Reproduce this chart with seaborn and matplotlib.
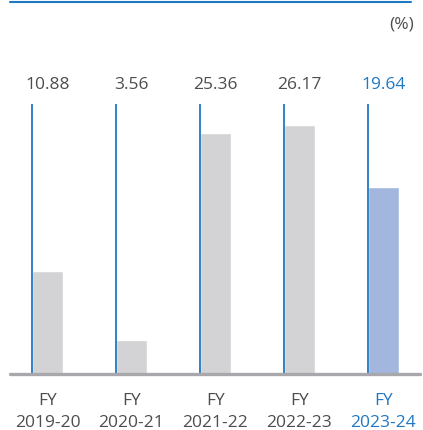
"""Return ratio by fiscal year, bar chart with marker lines."""

import matplotlib
matplotlib.use("Agg")
import matplotlib.pyplot as plt
import pandas as pd
import seaborn as sns


YEARS = ["FY\n2019-20", "FY\n2020-21", "FY\n2021-22", "FY\n2022-23", "FY\n2023-24"]
VALUES = [10.88, 3.56, 25.36, 26.17, 19.64]
VALUE_LABELS = ["10.88", "3.56", "25.36", "26.17", "19.64"]
UNIT_LABEL = "(%)"

GREY_BAR = "#d3d3d5"
HIGHLIGHT_BAR = "#a3b6dd"
BLUE = "#1f78c4"
TEXT_GREY = "#4d4d4d"
BASE_GREY = "#a8a8ac"

W, H = 423, 430
BAR_WIDTH = 0.36
PX_PER_UNIT = 9.5


def main() -> None:
    sns.set_theme(style="white")
    plt.rcParams["font.family"] = ["Open Sans", "DejaVu Sans"]

    df = pd.DataFrame({"year": YEARS, "value": VALUES})
    colors = [GREY_BAR] * (len(YEARS) - 1) + [HIGHLIGHT_BAR]

    fig = plt.figure(figsize=(W / 100, H / 100), dpi=100)
    # axes: left 10px, right 420px, top 0px, bottom (baseline) 374px
    ax = fig.add_axes([10 / W, (H - 374) / H, 410 / W, 374 / H])

    sns.barplot(data=df, x="year", y="value", hue="year", palette=colors,
                width=BAR_WIDTH, legend=False, ax=ax, saturation=1)

    ymax = 374 / PX_PER_UNIT
    ax.set_xlim(-0.446, 4.435)
    ax.set_ylim(0, ymax)

    line_top = (374 - 104) / PX_PER_UNIT
    label_y = (374 - 85) / PX_PER_UNIT
    for i, text in enumerate(VALUE_LABELS):
        left = i - BAR_WIDTH / 2
        ax.vlines(left, 0, line_top, color=BLUE, lw=1.3, zorder=3)
        color = BLUE if i == len(VALUE_LABELS) - 1 else TEXT_GREY
        ax.text(i, label_y, text, ha="center", va="center", fontsize=12.5, color=color)

    # top rule and baseline
    ax.axhline((374 - 2) / PX_PER_UNIT, xmin=0, xmax=401 / 410, color=BLUE, lw=1.5,
               clip_on=False)
    ax.axhline(0, color=BASE_GREY, lw=2.4, clip_on=False, zorder=4)
    ax.text(4.365, (374 - 24) / PX_PER_UNIT, UNIT_LABEL, ha="right", va="center",
            fontsize=12.5, color=TEXT_GREY)

    for spine in ax.spines.values():
        spine.set_visible(False)
    ax.set_yticks([])
    ax.set_xlabel("")
    ax.set_ylabel("")
    ax.tick_params(axis="x", length=0, pad=14, labelsize=12.5)
    for i, lbl in enumerate(ax.get_xticklabels()):
        lbl.set_color(BLUE if i == len(YEARS) - 1 else TEXT_GREY)
        lbl.set_linespacing(1.5)

    fig.savefig("out.png", dpi=100)
    plt.close(fig)


if __name__ == "__main__":
    main()
